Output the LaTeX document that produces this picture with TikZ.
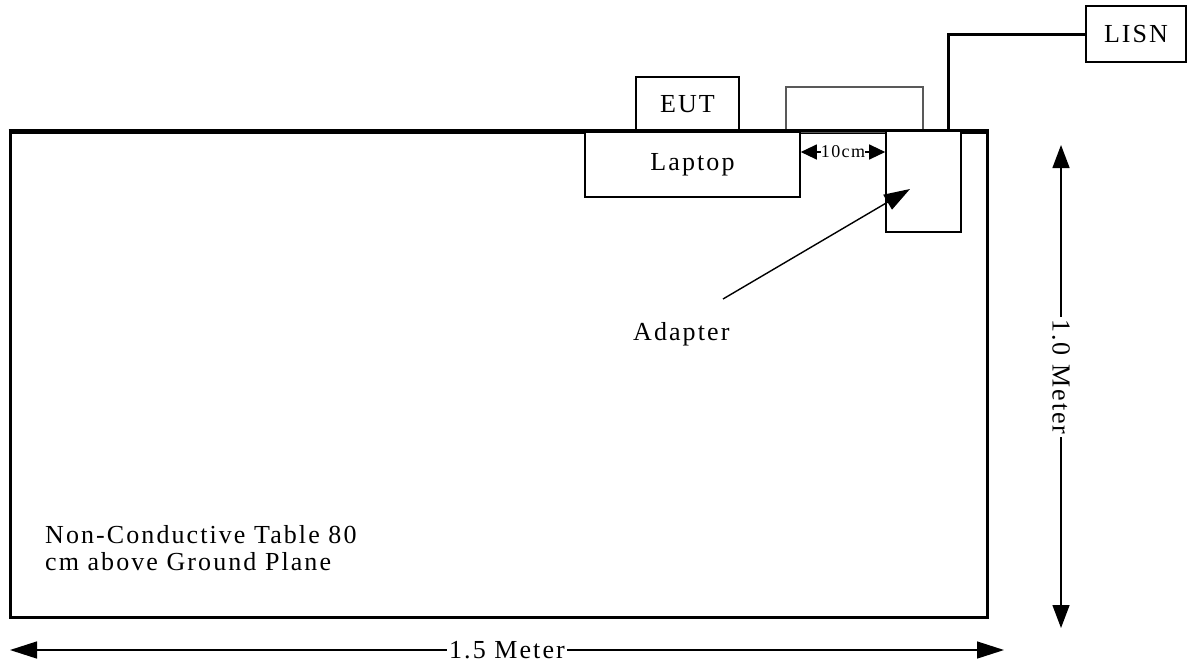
\documentclass[tikz,border=0pt]{standalone}
\usepackage{fontspec}
\setmainfont{Liberation Serif}
\newfontfamily\spaced[LetterSpace=8]{Liberation Serif}
\usetikzlibrary{positioning, arrows.meta, calc}

\begin{document}
\begin{tikzpicture}[x=1pt, y=-1pt,
    every node/.style={font=\spaced\fontsize{26}{27}\selectfont},
    box/.style={draw, line width=1.6pt, fill=white, inner sep=0pt},
    dimline/.style={line width=1.4pt, {Triangle[length=27pt, width=17pt]}-{Triangle[length=27pt, width=17pt]}},
    dimtext/.style={fill=white, inner sep=2pt}]
  \useasboundingbox (0,0) rectangle (1190,665);

  % table
  \node[draw, line width=3pt, minimum width=977pt, minimum height=485pt, inner sep=0pt] (table) at (498.5,374.5) {};

  % equipment on the table
  \node[draw=black!65, line width=1.1pt, minimum width=137pt, minimum height=45pt, inner sep=0pt] (spare) at (854.5,109.5) {};
  \node[box, minimum width=103pt, minimum height=55pt] (eut) at (687.5,104.5) {EUT};
  \node[box, minimum width=215pt, minimum height=65pt] (laptop) at (692.5,164.5) {Laptop};
  \draw[line width=3pt] (table.north west) -- (table.north east);
  \node[box, minimum width=75pt, minimum height=101pt] (adapter) at (923.5,181.5) {};
  \node[box, minimum width=100pt, minimum height=56pt] (lisn) at (1136,34) {LISN};

  % power cable
  \coordinate (plug) at (948,131);
  \draw[line width=3pt] (plug) |- (lisn.west);

  % 10 cm spacing
  \draw[line width=1.2pt, {Triangle[length=16pt, width=15pt]}-{Triangle[length=16pt, width=15pt]}]
    (laptop.east |- 0,152) -- node[fill=white, inner sep=0pt, font=\spaced\fontsize{18}{19}\selectfont] (gap) {10cm} (adapter.west |- 0,152);

  % adapter label
  \node[anchor=base west, inner sep=0pt] (adlabel) at (633,340) {Adapter};
  \coordinate (tail) at (723,299);
  \draw[line width=1.4pt, -{Triangle[length=26pt, width=17pt]}] (tail) -- (910,189);

  % table note
  \node[anchor=north west, align=left, inner sep=0pt] (note) at (45,525)
    {Non-Conductive Table 80\\cm above Ground Plane};

  % dimensions
  \coordinate (wl) at (10,650);
  \coordinate (wr) at (1004,650);
  \draw[dimline] (wl) -- node[dimtext] (width) {1.5 Meter} (wr);
  \coordinate (ht) at (1061,145);
  \coordinate (hb) at (1061,628);
  \draw[line width=1.4pt, {Triangle[length=23pt, width=17pt]}-{Triangle[length=23pt, width=17pt]}]
    (ht) -- node[dimtext, rotate=-90, pos=0.48] (height) {1.0 Meter} (hb);
\end{tikzpicture}
\end{document}
